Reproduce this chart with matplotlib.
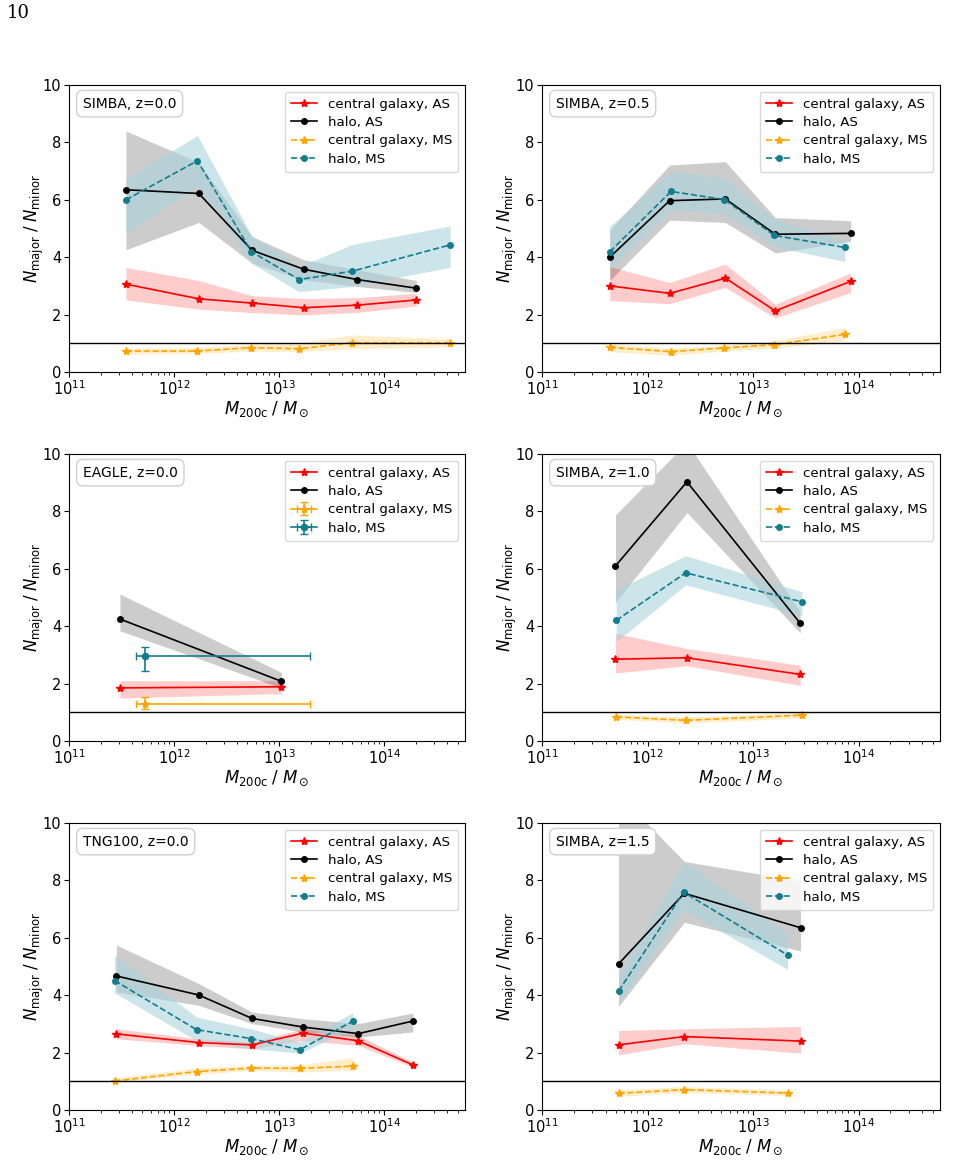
import matplotlib
matplotlib.use("Agg")
import matplotlib.pyplot as plt
from matplotlib.ticker import LogLocator, NullFormatter
import numpy as np

# values; x given as log10(M200c / Msun)
# --- SIMBA z=0.0 ---
s00_gal_as_x = [11.542, 12.236, 12.743, 13.235, 13.745, 14.306]
s00_gal_as_y = [3.06, 2.55, 2.40, 2.24, 2.33, 2.51]
s00_gal_as_lo = [2.51, 2.19, 2.07, 1.99, 2.08, 2.30]
s00_gal_as_hi = [3.64, 3.19, 2.66, 2.56, 2.59, 2.74]
s00_halo_as_y = [6.35, 6.22, 4.24, 3.58, 3.22, 2.92]
s00_halo_as_lo = [4.26, 5.21, 3.79, 3.21, 2.98, 2.77]
s00_halo_as_hi = [8.40, 7.30, 4.72, 3.91, 3.56, 3.19]
s00_ms_x = [11.542, 12.223, 12.737, 13.190, 13.694, 14.629]
s00_gal_ms_y = [0.73, 0.73, 0.85, 0.81, 1.02, 1.02]
s00_gal_ms_lo = [0.63, 0.65, 0.73, 0.71, 0.81, 0.88]
s00_gal_ms_hi = [0.83, 0.85, 0.97, 1.02, 1.29, 1.16]
s00_halo_ms_y = [6.00, 7.36, 4.19, 3.22, 3.51, 4.43]
s00_halo_ms_lo = [4.81, 6.50, 3.79, 2.80, 2.98, 3.65]
s00_halo_ms_hi = [6.74, 8.24, 4.76, 3.67, 4.44, 5.09]

# --- SIMBA z=0.5 ---
s05_as_x = [11.642, 12.209, 12.737, 13.209, 13.924]
s05_gal_as_y = [3.00, 2.74, 3.27, 2.13, 3.16]
s05_gal_as_lo = [2.49, 2.38, 2.95, 1.88, 2.77]
s05_gal_as_hi = [3.67, 3.12, 3.76, 2.36, 3.45]
s05_halo_as_y = [4.00, 5.97, 6.03, 4.80, 4.83]
s05_halo_as_lo = [3.19, 5.29, 5.21, 4.15, 4.55]
s05_halo_as_hi = [4.95, 7.21, 7.33, 5.38, 5.27]
s05_ms_x = [11.642, 12.222, 12.728, 13.199, 13.867]
s05_gal_ms_y = [0.86, 0.71, 0.84, 0.95, 1.31]
s05_gal_ms_lo = [0.71, 0.58, 0.73, 0.83, 1.09]
s05_gal_ms_hi = [0.98, 0.83, 0.94, 1.09, 1.55]
s05_halo_ms_y = [4.19, 6.29, 6.01, 4.76, 4.34]
s05_halo_ms_lo = [3.62, 5.65, 5.53, 4.37, 3.85]
s05_halo_ms_hi = [5.07, 6.99, 6.76, 5.33, 4.58]

# --- EAGLE z=0.0 (MS given as single points with error bars) ---
eag_as_x = [11.485, 13.022]
eag_gal_as_y = [1.85, 1.89]
eag_gal_as_lo = [1.50, 1.65]
eag_gal_as_hi = [2.10, 2.10]
eag_halo_as_y = [4.25, 2.08]
eag_halo_as_lo = [3.84, 1.85]
eag_halo_as_hi = [5.12, 2.39]
eag_ms_x = 11.726
eag_ms_xlo = 11.640
eag_ms_xhi = 13.298
eag_gal_ms = [1.29, 1.12, 1.55]   # value, low, high
eag_halo_ms = [2.96, 2.44, 3.28]

# --- SIMBA z=1.0 ---
s10_as_x = [11.696, 12.373, 13.446]
s10_gal_as_y = [2.85, 2.90, 2.32]
s10_gal_as_lo = [2.37, 2.62, 1.94]
s10_gal_as_hi = [3.75, 3.22, 2.64]
s10_halo_as_y = [6.10, 9.03, 4.10]
s10_halo_as_lo = [4.83, 7.96, 3.77]
s10_halo_as_hi = [7.88, 10.4, 4.51]
s10_ms_x = [11.703, 12.361, 13.462]
s10_gal_ms_y = [0.84, 0.72, 0.90]
s10_gal_ms_lo = [0.75, 0.63, 0.80]
s10_gal_ms_hi = [0.93, 0.84, 0.99]
s10_halo_ms_y = [4.20, 5.86, 4.85]
s10_halo_ms_lo = [3.46, 5.44, 4.37]
s10_halo_ms_hi = [5.26, 6.46, 5.20]

# --- TNG100 z=0.0 ---
tng_as_x = [11.450, 12.233, 12.743, 13.228, 13.754, 14.274]
tng_gal_as_y = [2.65, 2.35, 2.27, 2.68, 2.41, 1.57]
tng_gal_as_lo = [2.48, 2.25, 2.13, 2.42, 2.25, 1.49]
tng_gal_as_hi = [2.83, 2.48, 2.37, 2.83, 2.60, 1.67]
tng_halo_as_y = [4.67, 4.01, 3.19, 2.89, 2.66, 3.10]
tng_halo_as_lo = [4.11, 3.65, 3.01, 2.72, 2.54, 2.72]
tng_halo_as_hi = [5.75, 4.41, 3.41, 3.18, 3.01, 3.38]
tng_ms_x = [11.434, 12.214, 12.731, 13.197, 13.700]
tng_gal_ms_y = [1.01, 1.34, 1.46, 1.45, 1.53]
tng_gal_ms_lo = [0.97, 1.24, 1.38, 1.32, 1.38]
tng_gal_ms_hi = [1.12, 1.47, 1.55, 1.57, 1.83]
tng_halo_ms_y = [4.51, 2.80, 2.49, 2.10, 3.09]
tng_halo_ms_lo = [4.08, 2.42, 2.13, 1.98, 2.83]
tng_halo_ms_hi = [5.40, 3.24, 2.83, 2.37, 3.39]

# --- SIMBA z=1.5 ---
s15_as_x = [11.725, 12.348, 13.449]
s15_gal_as_y = [2.27, 2.56, 2.40]
s15_gal_as_lo = [1.92, 2.31, 1.98]
s15_gal_as_hi = [2.77, 2.83, 2.91]
s15_halo_as_y = [5.09, 7.55, 6.35]
s15_halo_as_lo = [3.61, 6.54, 5.54]
s15_halo_as_hi = [11.0, 8.66, 7.98]
s15_ms_x = [11.725, 12.342, 13.326]
s15_gal_ms_y = [0.58, 0.71, 0.59]
s15_gal_ms_lo = [0.47, 0.62, 0.50]
s15_gal_ms_hi = [0.70, 0.82, 0.70]
s15_halo_ms_y = [4.14, 7.59, 5.40]
s15_halo_ms_lo = [3.76, 6.97, 4.90]
s15_halo_ms_hi = [4.66, 8.66, 6.15]

RED = "red"
ORANGE = "orange"
TEAL = "#137d8c"
BAND_TEAL = "#a9d4de"

W, H = 974, 1170
fig = plt.figure(figsize=(W / 100, H / 100), dpi=100)

# axes boxes in pixels: left, top, right, bottom
boxes = {
    "s00": (69, 85, 465, 372),
    "s05": (542, 85, 940, 372),
    "eag": (69, 454, 465, 741),
    "s10": (542, 454, 940, 741),
    "tng": (69, 823, 465, 1110),
    "s15": (542, 823, 940, 1110),
}


def make_ax(key):
    l, t, r, b = boxes[key]
    return fig.add_axes([l / W, 1 - b / H, (r - l) / W, (b - t) / H])


def style_ax(ax, label):
    ax.set_xscale("log")
    ax.set_xlim(1e11, 10 ** 14.77)
    ax.set_ylim(0, 10)
    ax.set_yticks([0, 2, 4, 6, 8, 10])
    ax.xaxis.set_major_locator(LogLocator(base=10, numticks=10))
    ax.xaxis.set_minor_locator(LogLocator(base=10, subs=(2, 3, 4, 5, 6, 7, 8, 9), numticks=100))
    ax.xaxis.set_minor_formatter(NullFormatter())
    ax.axhline(1, color="black", lw=1)
    ax.tick_params(labelsize=10.5, pad=2)
    ax.tick_params(axis="x", which="minor", length=2.5, width=0.6)
    ax.set_xlabel(r"$M_\mathrm{200c}\;/\;M_\odot$", fontsize=12, labelpad=1)
    ax.set_ylabel(r"$N_\mathrm{major}\;/\;N_\mathrm{minor}$", fontsize=12, labelpad=-2)
    ax.text(0.035, 0.935, label, transform=ax.transAxes, fontsize=10, va="center", ha="left",
            bbox=dict(boxstyle="round,pad=0.45", fc="white", ec="#d0d0d0", lw=1))
    ax.legend(loc="upper right", fontsize=9.6, framealpha=0.8, edgecolor="#d0d0d0",
              borderpad=0.45, handlelength=2.0, labelspacing=0.4, handletextpad=0.8)


def draw_as(ax, x, gy, glo, ghi, hy, hlo, hhi):
    m = 10 ** np.array(x)
    ax.fill_between(m, glo, ghi, color=RED, alpha=0.2, lw=0)
    ax.fill_between(m, hlo, hhi, color="black", alpha=0.2, lw=0)
    ax.plot(m, gy, color=RED, marker="*", ms=6, lw=1.2, label="central galaxy, AS")
    ax.plot(m, hy, color="black", marker="o", ms=4, lw=1.2, label="halo, AS")


def draw_ms(ax, x, gy, glo, ghi, hy, hlo, hhi):
    m = 10 ** np.array(x)
    ax.fill_between(m, glo, ghi, color=ORANGE, alpha=0.2, lw=0)
    ax.fill_between(m, hlo, hhi, color=BAND_TEAL, alpha=0.6, lw=0)
    ax.plot(m, gy, color=ORANGE, marker="*", ms=6, lw=1.2, ls="--", label="central galaxy, MS")
    ax.plot(m, hy, color=TEAL, marker="o", ms=4, lw=1.2, ls="--", label="halo, MS")


panels = [
    ("s00", "SIMBA, z=0.0", s00_gal_as_x, s00_gal_as_y, s00_gal_as_lo, s00_gal_as_hi,
     s00_halo_as_y, s00_halo_as_lo, s00_halo_as_hi, s00_ms_x, s00_gal_ms_y, s00_gal_ms_lo, s00_gal_ms_hi,
     s00_halo_ms_y, s00_halo_ms_lo, s00_halo_ms_hi),
    ("s05", "SIMBA, z=0.5", s05_as_x, s05_gal_as_y, s05_gal_as_lo, s05_gal_as_hi,
     s05_halo_as_y, s05_halo_as_lo, s05_halo_as_hi, s05_ms_x, s05_gal_ms_y, s05_gal_ms_lo, s05_gal_ms_hi,
     s05_halo_ms_y, s05_halo_ms_lo, s05_halo_ms_hi),
    ("s10", "SIMBA, z=1.0", s10_as_x, s10_gal_as_y, s10_gal_as_lo, s10_gal_as_hi,
     s10_halo_as_y, s10_halo_as_lo, s10_halo_as_hi, s10_ms_x, s10_gal_ms_y, s10_gal_ms_lo, s10_gal_ms_hi,
     s10_halo_ms_y, s10_halo_ms_lo, s10_halo_ms_hi),
    ("tng", "TNG100, z=0.0", tng_as_x, tng_gal_as_y, tng_gal_as_lo, tng_gal_as_hi,
     tng_halo_as_y, tng_halo_as_lo, tng_halo_as_hi, tng_ms_x, tng_gal_ms_y, tng_gal_ms_lo, tng_gal_ms_hi,
     tng_halo_ms_y, tng_halo_ms_lo, tng_halo_ms_hi),
    ("s15", "SIMBA, z=1.5", s15_as_x, s15_gal_as_y, s15_gal_as_lo, s15_gal_as_hi,
     s15_halo_as_y, s15_halo_as_lo, s15_halo_as_hi, s15_ms_x, s15_gal_ms_y, s15_gal_ms_lo, s15_gal_ms_hi,
     s15_halo_ms_y, s15_halo_ms_lo, s15_halo_ms_hi),
]

for p in panels:
    key, label = p[0], p[1]
    ax = make_ax(key)
    draw_as(ax, p[2], *p[3:9])
    draw_ms(ax, p[9], *p[10:16])
    style_ax(ax, label)

# EAGLE panel: AS as bands, MS as single error-bar points
ax = make_ax("eag")
draw_as(ax, eag_as_x, eag_gal_as_y, eag_gal_as_lo, eag_gal_as_hi,
        eag_halo_as_y, eag_halo_as_lo, eag_halo_as_hi)
mx = 10 ** eag_ms_x
xerr = [[mx - 10 ** eag_ms_xlo], [10 ** eag_ms_xhi - mx]]
for vals, col, mk, lab in [(eag_gal_ms, ORANGE, "*", "central galaxy, MS"),
                           (eag_halo_ms, TEAL, "o", "halo, MS")]:
    v, lo, hi = vals
    ax.errorbar([mx], [v], xerr=xerr, yerr=[[v - lo], [hi - v]], color=col, marker=mk,
                ms=6 if mk == "*" else 4.5, capsize=3, lw=1.2, label=lab)
style_ax(ax, "EAGLE, z=0.0")

# page number
fig.text(7 / W, 1 - 13 / H, "10", fontsize=13, family="DejaVu Serif", va="center", ha="left")

fig.savefig("out.png", dpi=100)
